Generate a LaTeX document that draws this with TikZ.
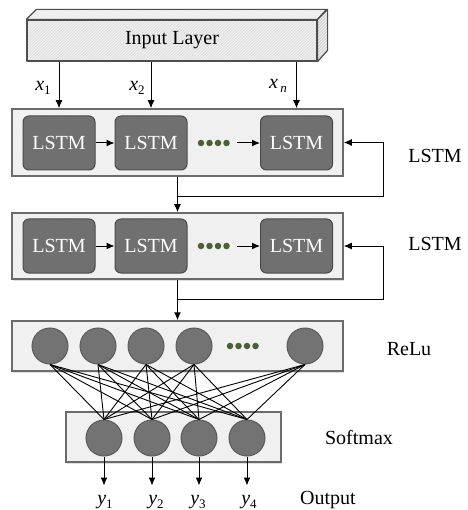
\documentclass[tikz,border=0pt]{standalone}
\usepackage{fontspec}
\setmainfont{Liberation Serif}
\usetikzlibrary{arrows.meta,shadows,patterns}
\definecolor{panelfill}{HTML}{EFEFEF}
\definecolor{panelline}{HTML}{6B6B6B}
\definecolor{lstmfill}{HTML}{707070}
\definecolor{lstmline}{HTML}{4A4A4A}
\definecolor{neuronfill}{HTML}{737373}
\definecolor{neuronline}{HTML}{5A5A5A}
\definecolor{dotfill}{HTML}{4B5E35}
\definecolor{inpfront}{HTML}{E2E2E2}
\definecolor{inptop}{HTML}{EDEDED}
\definecolor{inpside}{HTML}{D6D6D6}
\definecolor{inpline}{HTML}{4D4D4D}
\newcommand\subl[2]{\textit{#1}\raisebox{-0.45ex}{\fontsize{13}{13}\selectfont #2}}
\tikzset{
  hatchfill/.style={preaction={fill=#1}, preaction={pattern=north east lines, pattern color=black!4}},
  panel/.style={drop shadow={shadow xshift=1pt, shadow yshift=-1.5pt, opacity=0.25},
    hatchfill=panelfill, draw=panelline, line width=1.5pt, inner sep=0pt},
  lstmbox/.style={draw=lstmline, line width=1pt, fill=lstmfill, rounded corners=6pt,
    minimum width=72pt, minimum height=54pt, text=white, inner sep=0pt,
    font=\fontsize{20}{24}\selectfont},
  neuron/.style={circle, draw=neuronline, line width=1pt, fill=neuronfill,
    minimum size=36pt, inner sep=0pt},
  gdot/.style={circle, fill=dotfill, minimum size=6.5pt, inner sep=0pt},
  arr/.style={-{Latex[length=8pt,width=7pt]}, line width=1pt},
  lbl/.style={font=\fontsize{20}{24}\selectfont, inner sep=0pt},
  conn/.style={line width=0.9pt},
  inpface/.style={hatchfill=#1, draw=inpline, line width=1.2pt, line join=round},
}
\begin{document}
\begin{tikzpicture}[x=1pt,y=-1pt]
\useasboundingbox (0,0) rectangle (467,510);

% Input layer (3D box)
\node[inpface=inpfront, minimum width=290pt, minimum height=41pt, inner sep=0pt,
  font=\fontsize{20}{24}\selectfont] (inp) at (172,40.5) {Input Layer};
\draw[inpface=inptop] (inp.north west) -- ++(10,-10) -- ++(290,0) -- (inp.north east) -- cycle;
\draw[inpface=inpside] (inp.north east) -- ++(10,-10) -- ++(0,41) -- (inp.south east) -- cycle;

% Panels
\node[panel, minimum width=331pt, minimum height=67pt] (p1) at (177.5,142.5) {};
\node[panel, minimum width=331pt, minimum height=66pt] (p2) at (177.5,246) {};
\node[panel, minimum width=331pt, minimum height=50pt] (pr) at (177.5,346) {};
\node[panel, minimum width=215pt, minimum height=50pt] (ps) at (173.5,437) {};

% LSTM row 1
\node[lstmbox] (l11) at (59,143) {LSTM};
\node[lstmbox] (l12) at (151,143) {LSTM};
\node[lstmbox] (l13) at (296.5,143) {LSTM};
\foreach \i/\x in {1/201,2/209.5,3/218,4/226.5}
  \node[gdot] (d1\i) at (\x,143) {};
% LSTM row 2
\node[lstmbox] (l21) at (59,246) {LSTM};
\node[lstmbox] (l22) at (151,246) {LSTM};
\node[lstmbox] (l23) at (296.5,246) {LSTM};
\foreach \i/\x in {1/201,2/209.5,3/218,4/226.5}
  \node[gdot] (d2\i) at (\x,246) {};

\draw[arr] (l11) -- (l12);
\draw[arr] ([xshift=7pt]d14.east) -- (l13.west);
\draw[arr] (l21) -- (l22);
\draw[arr] ([xshift=7pt]d24.east) -- (l23.west);

% inputs
\draw[arr] (inp.south -| l11) -- (p1.north -| l11);
\draw[arr] (inp.south -| l12) -- (p1.north -| l12);
\draw[arr] (inp.south -| l13) -- (p1.north -| l13);
\node[lbl] (x1) at (43,88) {\subl{x}{1}};
\node[lbl] (x2) at (137,88) {\subl{x}{2}};
\node[lbl] (xn) at (278,86) {\subl{x}{\,\textit{n}}};

% feedback and flow
\coordinate (f1) at (383,197);
\coordinate (f2) at (383,299);
\draw[arr] (p1.south) |- (f1) |- (p1.east);
\draw[arr] (p1.south) -- (p2.north);
\draw[arr] (p2.south) |- (f2) |- (p2.east);
\draw[arr] (p2.south) -- (pr.north);

% ReLU neurons
\foreach \i/\x in {1/50,2/98,3/146,4/194,5/305}
  \node[neuron] (r\i) at (\x,346) {};
\foreach \i/\x in {1/230,2/238.5,3/247,4/255.5}
  \node[gdot] (d3\i) at (\x,346) {};
% Softmax neurons
\foreach \i/\x in {1/104,2/152,3/199,4/247}
  \node[neuron] (s\i) at (\x,438) {};

\foreach \i in {1,...,5}
  \foreach \j in {1,...,4}
    \draw[conn] (r\i.south) -- (s\j.north);

% outputs
\foreach \i in {1,...,4} {
  \path (s\i.south) ++(0,29) coordinate (o\i);
  \draw[arr] (s\i.south) -- (o\i);
}
\node[lbl] (y1) at (105,502) {\subl{y}{1}};
\node[lbl] (y2) at (156,502) {\subl{y}{2}};
\node[lbl] (y3) at (198,502) {\subl{y}{3}};
\node[lbl] (y4) at (249,502) {\subl{y}{4}};

% side labels
\node[lbl] (t1) at (435,156) {LSTM};
\node[lbl] (t2) at (435,244) {LSTM};
\node[lbl] (t3) at (409,349) {ReLu};
\node[lbl] (t4) at (359,438) {Softmax};
\node[lbl] (t5) at (328,500) {Output};
\end{tikzpicture}
\end{document}
